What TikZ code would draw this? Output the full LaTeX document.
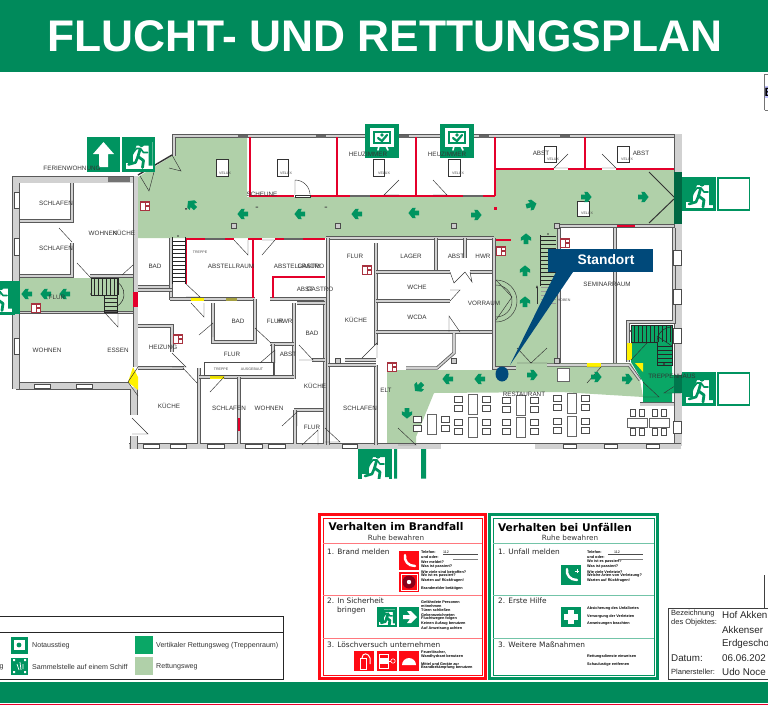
\documentclass[tikz,border=0pt]{standalone}
\usepackage{fontspec}
\setmainfont{Liberation Sans}
\newfontfamily\verdfont{DejaVu Sans}
\usetikzlibrary{arrows.meta,positioning}
\definecolor{bannergreen}{HTML}{008A5B}
\definecolor{signgreen}{HTML}{009460}
\definecolor{routegreen}{HTML}{B0D0A9}
\definecolor{stairgreen}{HTML}{0AA766}
\definecolor{firered}{HTML}{E4002B}
\definecolor{signred}{HTML}{A8323F}
\definecolor{boxred}{HTML}{FF0A14}
\definecolor{standblue}{HTML}{00497A}
\tikzset{
  wall/.style={draw=black!65, line width=0.8pt, double=black!18, double distance=1.6pt, line join=miter},
  firewall/.style={draw=firered, line width=2.4pt},
  thin door/.style={draw=black!80, line width=0.45pt},
  velux/.style={draw=black!80, fill=white, line width=0.5pt},
  room/.style={font=\fontsize{6.3}{7}\selectfont, text=black!80, inner sep=0pt},
  tiny room/.style={font=\fontsize{3.6}{4}\selectfont, text=black!70, inner sep=0pt},
  head/.style={font=\verdfont\bfseries\fontsize{10.6}{13}\selectfont, inner sep=0pt},
  subhead/.style={font=\verdfont\fontsize{7.2}{8}\selectfont, text=black!80, inner sep=0pt},
  step text/.style={font=\verdfont\fontsize{7.4}{8}\selectfont, text=black!85, anchor=west, inner sep=0pt},
  note/.style={font=\bfseries\fontsize{3.8}{4}\selectfont, anchor=west, inner sep=0pt},
  legend text/.style={font=\fontsize{7.1}{8}\selectfont, text=black!80, anchor=west, inner sep=0pt},
  info/.style={font=\fontsize{9.8}{11}\selectfont, text=black!85, anchor=west, inner sep=0pt},
  info small/.style={font=\fontsize{7.5}{8}\selectfont, text=black!85, anchor=west, inner sep=0pt},
  pics/route arrow/.style={code={
    \fill[signgreen] (-5,-2.3) -- (-0.5,-2.3) -- (-1.8,-5.2) -- (1.5,-5.2) -- (5.6,0) -- (1.5,5.2) -- (-1.8,5.2) -- (-0.5,2.3) -- (-5,2.3) -- cycle;
  }},
  pics/runner/.style={code={
    % running man on a door, box of 34 by 34 around the middle
    \fill[white] (-6,-13) rectangle (14,14);
    \fill[white] (-13,8) rectangle (2,14);
    \fill[signgreen] (-6,-13) -- (-6,2) -- (-2,-9) -- (10,-9) -- (10,11) -- (14,11) -- (14,-13) -- cycle;
    \fill[signgreen] (3,-10) circle (2.6);
    \draw[signgreen, line width=2.8pt, line cap=round, line join=round] (1.5,-5) -- (-0.5,2) -- (5,6) -- (4,13);
    \draw[signgreen, line width=2.6pt, line cap=round, line join=round] (-0.5,2) -- (-3,8) -- (-10,10);
    \draw[signgreen, line width=1.6pt, line cap=round, line join=round] (-6,-1) -- (-2,-6) -- (2,-6) -- (5,-2) -- (9,-2);
  }},
  pics/hatchout/.style={code={
    \fill[signgreen] (-17,-17) rectangle (17,17);
    \fill[white] (-12,-13) rectangle (12,6);
    \fill[signgreen] (-9,-10) rectangle (9,3);
    \fill[white] (-7,-8) rectangle (7,1);
    \draw[signgreen, line width=2.2pt, line cap=round] (-4,-3) -- (0,0) -- (5,-6);
    \fill[signgreen] (0,-6) circle (1.8);
    \draw[white, line width=1.6pt, line cap=round] (-3,5) -- (-4,9) (4,5) -- (6,9);
  }},
  pics/firesign/.style={code={
    \fill[signred] (-5,-5) rectangle (5,5);
    \fill[white] (-3.8,-3.5) rectangle (-0.5,3.5);
    \fill[white] (0.5,-3.5) rectangle (3.8,-1);
    \fill[white] (0.5,0.5) rectangle (3.8,3.5);
  }},
  pics/chair pair/.style={code={
    \draw[draw=black!70, fill=white, line width=0.7pt] (-4,-7.5) rectangle (4,-1.5);
    \draw[draw=black!70, fill=white, line width=0.7pt] (-4,1) rectangle (4,7);
  }},
  pics/table block/.style={code={
    \draw[draw=black!60, fill=white, line width=0.6pt] (-4.5,-10) rectangle (4.5,10);
    \pic at (-14,0) {chair pair};
    \pic at (14,0) {chair pair};
  }},
  pics/long table/.style={code={
    \draw[draw=black!60, fill=white, line width=0.6pt] (-10,-4.5) rectangle (10,4.5);
    \foreach \cx in {-6.5,2.5}{
      \draw[draw=black!70, fill=white, line width=0.7pt] (\cx-0.2,-13) rectangle (\cx+5,-6);
      \draw[draw=black!70, fill=white, line width=0.7pt] (\cx-0.2,6) rectangle (\cx+5,13);
    }
  }}
}
\begin{document}
\begin{tikzpicture}[x=1pt,y=-1pt]
\useasboundingbox (0,0) rectangle (768,705);
% banners
\fill[bannergreen] (0,0) rectangle (768,72);
\node[font=\bfseries\fontsize{44.3}{50}\selectfont, text=white, inner sep=0pt] (titel) at (385,36) {FLUCHT- UND RETTUNGSPLAN};
\fill[bannergreen] (0,682) rectangle (768,703);
\fill[firered] (0,703.5) rectangle (768,705);
% escape routes
\fill[routegreen] (176,137) -- (247,137) -- (247,197) -- (495,197) -- (495,170) -- (674,170) -- (674,224) -- (557,224) -- (557,363) -- (631,363) -- (640,380) -- (643,397) -- (561,392) -- (434,393) -- (416,437) -- (416,445) -- (387,445) -- (387,370) -- (494,370) -- (494,238) -- (138,238) -- (138,177) -- (172,156) -- cycle;
\fill[routegreen] (20,278) rectangle (133,312);
% outer walls
\draw[wall, double distance=2pt] (174,156) -- (174,136) -- (678,136);
\draw[wall, double distance=7pt] (678,134) -- (678,446);
\draw[wall, double distance=5pt] (681,446) -- (129,446);
\draw[wall, double distance=6pt] (134,449) -- (134,436);
\draw[wall, double distance=6pt] (134,415) -- (134,387);
\draw[wall, double distance=6pt] (16,386) -- (131,386);
\draw[wall, double distance=6pt] (16,389) -- (16,176);
\draw[wall, double distance=6pt] (13,179.5) -- (138,179.5);
\draw[wall, double distance=4pt] (135.5,176) -- (135.5,367);
% west wing
\draw[wall] (72,183) -- (72,221) -- (20,221);
\draw[wall] (72,243) -- (72,276) -- (20,276);
\draw[wall] (90,276) -- (133,276);
\draw[wall] (20,312.5) -- (133,312.5);
% south of the long corridor
\draw[wall] (138,287) -- (170,287);
\draw[wall] (171,238) -- (171,300);
\draw[wall] (170,299) -- (255,299);
\draw[wall] (270,299) -- (326,299);
\draw[wall] (326,238) -- (494,238);
\draw[wall] (328,238) -- (328,445);
\draw[wall] (376,243) -- (376,345);
\draw[wall] (376,365) -- (376,445);
\draw[wall] (328,365) -- (376,365);
\draw[wall] (345,360) -- (376,360);
\draw[wall] (436,238) -- (436,272);
\draw[wall] (465,238) -- (465,258);
\draw[wall] (376,272) -- (450,272);
\draw[wall] (470,272) -- (494,272);
\draw[wall] (376,301) -- (450,301);
\draw[wall] (376,332) -- (493,332);
\draw[wall] (494,238) -- (494,368) -- (516,368);
\draw[wall] (454,333) -- (454,353) -- (437,368) -- (406,368);
% middle block
\draw[wall] (138,290) -- (172,290);
\draw[wall] (138,326) -- (172,326) -- (172,352);
\draw[wall] (138,368) -- (184,368);
\draw[wall] (213,303) -- (213,342) -- (255,342) -- (255,299);
\draw[wall] (294,303) -- (294,379);
\draw[wall] (270,344) -- (294,344);
\draw[wall] (273,344) -- (273,376);
\draw[wall] (199,368) -- (199,444);
\draw[wall] (199,377) -- (294,377);
\draw[wall] (239,377) -- (239,444);
\draw[wall] (294,410) -- (325,410);
\draw[wall] (295,410) -- (295,444);
\draw[wall] (325,300) -- (325,444);
\draw[wall] (297,303) -- (325,303);
\draw[wall] (312,360) -- (325,360);
\draw[draw=black!70, fill=white, line width=0.6pt] (204,362) rectangle (273,375);
% seminar room and stairs
\draw[wall, double distance=2.4pt] (557,226) -- (674,226);
\draw[wall] (559,228) -- (559,363);
\draw[wall] (615,228) -- (615,363);
\draw[wall] (547,365) -- (629,365) -- (640,380);
\draw[wall] (674,228) -- (674,322) -- (628,322) -- (628,362);
\draw[wall, double distance=3pt] (640,404) -- (674,404);
\fill[stairgreen] (631,325) -- (672,325) -- (672,375) -- (681,375) -- (681,393) -- (672,393) -- (672,402) -- (643,402) -- (643,382) -- (631,362) -- cycle;
% fire walls
\draw[firewall] (250,137) -- (250,196) -- (294,196);
\draw[firewall] (310,196) -- (495,196);
\draw[firewall] (337,137) -- (337,196);
\draw[firewall] (416,137) -- (416,196);
\draw[firewall] (495,137) -- (495,196);
\draw[firewall] (495,169) -- (554,169);
\draw[firewall] (568,169) -- (602,169);
\draw[firewall] (616,169) -- (674,169);
\draw[firewall] (585,137) -- (585,169);
\draw[firewall] (186,239) -- (186,284);
\draw[firewall] (185,239) -- (234,239);
\draw[firewall] (248,239) -- (262,239);
\draw[firewall] (275,239) -- (325,239);
\draw[firewall] (253,239) -- (253,298);
\draw[firewall] (273,298) -- (273,277) -- (325,277);
\draw[firewall] (496,240) -- (511,240);
\draw[firewall] (617,226) -- (635,226);
\draw[firewall] (239,418) -- (239,431);
\fill[firered] (133,292) rectangle (138,307);
% window marks on corridor walls
\foreach \xa/\xb/\ya in {350/370/196,463/483/196,205/225/239,284/303/239}{
  \fill[black!60] (\xa,\ya-1) rectangle (\xb,\ya+1);
}
\foreach \xa in {238,316,399,479,560}{
  \fill[black!60] (\xa,134.5) rectangle (\xa+10,138);
}
\fill[black!55] (108,177) rectangle (130,182);
% windows
\foreach \xa/\xb in {143/159,170/186,207/224,245/262,268/285,342/357,563/576,604/617,646/659}{
  \draw[draw=black!70, fill=white, line width=0.5pt] (\xa,444.5) rectangle (\xb,448);
}
\fill[white] (441,444) rectangle (535,448.5);
\foreach \xa/\xb in {34/50,76/92}{
  \draw[draw=black!70, fill=white, line width=0.5pt] (\xa,384) rectangle (\xb,388);
}
\foreach \ya/\yb in {250/265,289/304,328/343,421/433}{
  \draw[draw=black!70, fill=white, line width=0.5pt] (673.5,\ya) rectangle (681,\yb);
}
\foreach \ya/\yb in {192/208,238/255,338/354}{
  \draw[draw=black!70, fill=white, line width=0.5pt] (14,\ya) rectangle (19,\yb);
}
% doors
\fill[yellow] (191,298) rectangle (204,301);
\fill[yellow!60!black] (226,298) rectangle (237,301);
\fill[yellow] (133,367) -- (138,377) -- (138,390) -- (128,382) -- cycle;
\fill[yellow] (210,376) rectangle (224,379);
\fill[yellow] (587,363) rectangle (601,367);
\fill[yellow] (627,343) rectangle (632,360);
\fill[yellow] (635,363) -- (643,363) -- (643,372) -- cycle;
\draw[line width=1.4pt, black!80] (138,175) -- (172,155);
\foreach \ax/\ay/\bx/\by/\cx/\cy in {
  140/176/149/191/154/172, 172/155/181/171/169/168, 59/228/72/242/72/242, 77/263/90/277/90/277,
  122/275/133/265/133/265, 185/283/200/297/186/297, 234/240/248/255/248/240, 262/255/275/240/262/240,
  399/180/384/195/399/195, 433/180/447/195/433/195, 568/154/554/168/568/168, 602/154/616/168/602/168,
  517/348/531/363/517/363, 547/348/531/363/547/363, 587/383/601/367/587/367,
  398/428/416/445/398/445, 643/382/659/397/643/397, 681/382/664/393/681/393, 631/360/647/343/631/343,
  191/303/204/317/204/303, 199/335/213/323/213/337, 172/353/186/367/172/367, 183/368/197/383/197/383,
  255/328/271/343/271/343, 260/363/275/350/275/363, 299/345/313/360/299/360, 210/377/224/377/210/392,
  282/426/297/412/297/426, 302/445/318/430/318/445, 325/428/340/442/325/442, 362/358/377/343/377/358,
  132/418/148/434/132/434, 128/382/138/367/138/367, 128/382/138/396/138/396, 105/313/118/327/118/313,
  450/272/454/283/465/272, 465/272/472/282/470/272, 450/301/460/290/450/290, 460/332/449/316/449/332}{
  \draw[thin door] (\ax,\ay) -- (\bx,\by) -- (\cx,\cy);
}
\draw[thin door, line width=1pt] (649,172) -- (675,198) -- (649,223);
\draw[thin door] (295,195) -- (295,180) arc[start angle=90, end angle=0, radius=15pt];
\fill[white] (295,194) rectangle (310,198);
\draw[thin door] (295,195) rectangle (310,197);
\draw[thin door] (496,280) arc[start angle=90, end angle=-90, radius=21pt];
\draw[thin door] (496,285) arc[start angle=90, end angle=-90, radius=16pt];
\draw[thin door] (496,280) -- (512,297) -- (496,320);
% stairs
\foreach \sy in {241,245,...,283}{ \draw[black!85, line width=0.5pt] (172,\sy) -- (185,\sy); }
\foreach \sy in {236,240,...,284}{ \draw[black!85, line width=0.5pt] (540,\sy) -- (556,\sy); }
\foreach \sy in {287,291,...,303}{ \draw[black!40, line width=0.4pt] (541,\sy) -- (556,\sy); }
\draw[black!85, line width=0.5pt] (172,237) -- (172,284) (185,237) -- (185,284) (540,235) -- (540,286);
\draw[-{Latex[length=3pt]}, black!80, line width=0.4pt] (537,304) -- (537,285);
\foreach \sx in {94,98,...,118}{ \draw[black!85, line width=0.5pt] (\sx,278) -- (\sx,295); }
\draw[black!85, line width=0.5pt] (91,278) rectangle (117,295);
\foreach \sy in {298,302,...,310}{ \draw[black!85, line width=0.5pt] (104,\sy) -- (117,\sy); }
\draw[black!85, line width=0.5pt] (104,295) rectangle (117,312);
\draw[black!85, line width=0.5pt] (117,282) arc[start angle=60, end angle=-60, radius=14pt];
\foreach \sx in {634,638,...,670}{ \draw[black!85, line width=0.5pt] (\sx,325) -- (\sx,342); }
\draw[black!85, line width=0.9pt] (631,325) -- (672,325) -- (672,365) -- (657,365) -- (657,342) -- (631,342) -- cycle;
\foreach \sy in {346,350,...,362}{ \draw[black!85, line width=0.5pt] (657,\sy) -- (672,\sy); }
\draw[black!85, line width=0.5pt] (657,342) arc[start angle=180, end angle=90, radius=15pt];
\draw[black!85, line width=0.5pt] (657,336) -- (672,346);
\fill[black!80] (664,364) circle (1.2) (631,331) circle (1.2) (91,294) circle (0.9) (178,236) circle (0.9) (548,234) circle (0.9);
% velux windows and pillars
\foreach \xa/\ya/\xb/\yb in {216/159/228/176, 277/159/288/176, 373/159/384/176, 448/159/460/176, 544/146/556/162, 617/146/629/162, 577/201/589/216}{
  \draw[velux] (\xa,\ya) rectangle (\xb,\yb);
}
\foreach \cx/\cy in {234/226,338/226,454/226,557/226,557/361,454/361,338/361}{
  \draw[draw=black!70, fill=white!80!black, line width=0.6pt] (\cx-2.5,\cy-2.5) rectangle (\cx+2.5,\cy+2.5);
}
\draw[draw=black!60, fill=white, line width=0.6pt] (557,368) rectangle (569,381);
\fill[firered] (494,206.5) rectangle (497,209.5);
\fill[black!70] (255.5,206.5) rectangle (258,207.5) (324.5,206.5) rectangle (327,207.5) (185,208) rectangle (187,209.5);
% restaurant
\pic at (431.5,424) {table block};
\foreach \tx/\ty in {472.5/404,472.5/427,520.5/405,520.5/427,571.5/403,571.5/426}{
  \pic at (\tx,\ty) {table block};
}
\pic at (637,422.5) {long table};
\pic at (659,422.5) {long table};
% route arrows
\foreach \ax/\ay/\ang in {192/205/135, 243/214/180, 300/214/180, 357/214/180, 414/213/180, 476/215/0, 531/205/15, 586/197/0, 643/197/0,
  526/239/90, 525/271/90, 525/302/90, 27/294/180, 46/294/180, 65/294/180, 532/375/0, 596/377/0, 627/379/0, 480/379/180, 448/379/180,
  419/387/225, 407/413/270}{
  \pic[rotate=\ang] at (\ax,\ay) {route arrow};
}
% fire signs
\foreach \fx/\fy in {145/206,36/308,367/270,565/243,501/251,178/339,392/367}{
  \pic at (\fx,\fy) {firesign};
}
% exit signs
\fill[signgreen] (87,137) rectangle (120,172);
\fill[white] (103.5,142) -- (114,154) -- (108,154) -- (108,167) -- (99,167) -- (99,154) -- (93,154) -- cycle;
\fill[signgreen] (122,137) rectangle (155,172);
\pic at (138.5,154.5) {runner};
\pic at (382,141) {hatchout};
\pic at (457,141) {hatchout};
\foreach \sx/\sy in {699/194,699/389,-2/297.5}{
  \fill[signgreen] (\sx-17,\sy-17) rectangle (\sx+17,\sy+17);
  \pic at (\sx,\sy) {runner};
}
\begin{scope}
  \clip (350,449) rectangle (400,478.5);
  \fill[signgreen] (358,449) rectangle (392,483);
  \pic at (375,466) {runner};
\end{scope}
\fill[signgreen] (13,281) rectangle (20,314);
\fill[signgreen!70!black] (674,172) rectangle (682,224);
\fill[signgreen!80!black] (674,375) rectangle (682,393);
\foreach \sy in {194,389}{
  \draw[signgreen, line width=1.8pt] (718,\sy-16) rectangle (749.5,\sy+16);
}
\fill[signgreen] (394,449) rectangle (397,478.5) (421,449) rectangle (426,478.5);
% room names
\foreach \rx/\ry/\rname [count=\i] in {
  72/168/FERIENWOHNUNG, 56/203/SCHLAFEN, 56/248/SCHLAFEN, 103/233/WOHNEN, 124/233/KÜCHE, 57/297/FLUR, 155/266/BAD,
  231/266/ABSTELLRAUM, 297/266/ABSTELLRAUM, 311/266/GASTRO, 355/256/FLUR, 305/289/ABST, 320/289/GASTRO, 262/194/SCHEUNE,
  368/154/HEUZIMMER, 447/154/HEUZIMMER, 541/153/ABST, 641/153/ABST, 411/256/LAGER, 456/256/ABST, 483/256/HWR, 417/287/WCHE,
  417/317/WCDA, 484/303/VORRAUM, 607/284/SEMINARRAUM, 47/350/WOHNEN, 118/350/ESSEN, 163/347/HEIZUNG, 238/321/BAD, 275/321/FLUR,
  285/321/HWR, 312/333/BAD, 356/320/KÜCHE, 232/354/FLUR, 288/354/ABST, 315/386/KÜCHE, 169/406/KÜCHE, 229/408/SCHLAFEN,
  269/408/WOHNEN, 312/427/FLUR, 360/408/SCHLAFEN, 386/390/ELT, 524/394/RESTAURANT, 672/376/TREPPENHAUS}{
  \node[room] (raum\i) at (\rx,\ry) {\rname};
}
\foreach \rx/\ry/\rname [count=\i] in {
  225/173/VELUX, 286/173/VELUX, 384/173/VELUX, 458/173/VELUX, 553/159/VELUX, 627/159/VELUX, 587/213/VELUX, 564/300/HOBEN,
  200/252/TREPPE, 221/369/TREPPE, 252/369/AUSGEBAUT}{
  \node[tiny room] (klein\i) at (\rx,\ry) {\rname};
}
% standort callout
\fill[standblue] (548,249) rectangle (653,272);
\fill[standblue] (556,272) -- (573,272) -- (510,365) -- cycle;
\fill[standblue] (502,374) ellipse (6.5 and 7.5);
\node[font=\bfseries\fontsize{13.8}{15}\selectfont, text=white, inner sep=0pt] (standort) at (606,260) {Standort};
% behaviour panels
\draw[boxred, line width=3pt] (319.5,514.5) rectangle (485.5,678);
\draw[boxred, line width=0.6pt] (323,518) rectangle (482,675);
\foreach \ly in {543,595,638}{ \draw[boxred!55, line width=1pt] (323,\ly) -- (482,\ly); }
\draw[signgreen, line width=3pt] (489.5,514.5) rectangle (657,678);
\draw[signgreen, line width=0.6pt] (493,518) rectangle (654,675);
\foreach \ly in {543,595,638}{ \draw[signgreen!55, line width=1pt] (493,\ly) -- (654,\ly); }
\node[head] (brandkopf) at (396,527) {Verhalten im Brandfall};
\node[subhead] (brandruhe) at (396,538) {Ruhe bewahren};
\node[step text] (brand1) at (327,552) {1. Brand melden};
\node[step text] (brand2) at (327,601) {2. In Sicherheit};
\node[step text] (brand2b) at (337,610) {bringen};
\node[step text] (brand3) at (327,645) {3. Löschversuch unternehmen};
\node[head] (unfallkopf) at (565,527) {Verhalten bei Unfällen};
\node[subhead] (unfallruhe) at (570,538) {Ruhe bewahren};
\node[step text] (unfall1) at (498,552) {1. Unfall melden};
\node[step text] (unfall2) at (498,601) {2. Erste Hilfe};
\node[step text] (unfall3) at (498,645) {3. Weitere Maßnahmen};
\foreach \ny/\ntext [count=\i] in {552/Telefon:, 557/und oder:, 562/Wer meldet?, 567/Was ist passiert?, 572/Wie viele sind betroffen?,
  576/Wo ist es passiert?, 581/Warten auf Rückfragen!, 589/Brandmelder betätigen, 602/Gefährdete Personen, 606/mitnehmen, 610/Türen schließen,
  615/Gekennzeichneten, 619/Fluchtwegen folgen, 624/Keinen Aufzug benutzen, 629/Auf Anweisung achten, 652/{Feuerlöscher,},
  657/Wandhydrant benutzen, 664/Mittel und Geräte zur, 668/Brandbekämpfung benutzen}{
  \node[note] (brandnote\i) at (421,\ny) {\ntext};
}
\foreach \ny/\ntext [count=\i] in {552/Telefon:, 557/und oder:, 562/Wo ist es passiert?, 567/Was ist passiert?, 572/Wie viele Verletzte?,
  576/Welche Arten von Verletzung?, 581/Warten auf Rückfragen!, 609/Absicherung des Unfallortes, 617/Versorgung der Verletzten,
  624/Anweisungen beachten, 657/Rettungsdienste einweisen, 665/Schaulustige entfernen}{
  \node[note] (unfallnote\i) at (587,\ny) {\ntext};
}
\node[note, font=\fontsize{3.6}{4}\selectfont] (nr1) at (443,552) {112};
\node[note, font=\fontsize{3.6}{4}\selectfont] (nr2) at (614,552) {112};
\draw[black!70, line width=0.5pt] (443,554) -- (478,554) (608,554) -- (643,554);
\draw[black!50, line width=0.8pt] (453,559) -- (478,559) (618,559) -- (643,559);
% panel icons
\fill[boxred] (399,551) rectangle (419,570);
\draw[white, line width=2.4pt, line cap=round] (405,555) .. controls (404,561) and (408,566) .. (415,566);
\fill[boxred] (399,572) rectangle (419,592);
\draw[white, line width=1pt] (401,574) rectangle (417,590);
\fill[firered!60!black] (409,582) circle (6.5);
\fill[white] (409,582) circle (2.2);
\fill[signgreen] (377,607) rectangle (397,627);
\pic[scale=0.58] at (387,617) {runner};
\fill[signgreen] (399,607) rectangle (419,627);
\fill[white] (403,615) -- (410,615) -- (407,611) -- (411,611) -- (417,617) -- (411,623) -- (407,623) -- (410,619) -- (403,619) -- cycle;
\foreach \ix in {354,377,399}{ \fill[boxred] (\ix,651) rectangle (\ix+20,671); }
\draw[white, line width=1pt, fill=boxred] (360,658) rectangle (366,669);
\draw[white, line width=1pt] (362,658) .. controls (362,652) and (369,653) .. (370,658) -- (370,664);
\draw[white, line width=1pt] (379,654) rectangle (388,668);
\fill[white] (379,658) rectangle (388,664);
\draw[white, line width=0.8pt] (388,661) -- (391,661);
\draw[white, line width=0.6pt] (393,661) circle (2.2);
\fill[white] (402,665) arc[start angle=180, end angle=0, radius=7pt] -- cycle;
\fill[signgreen] (561,565) rectangle (581,585);
\draw[white, line width=2.4pt, line cap=round] (567,569) .. controls (566,575) and (570,580) .. (577,580);
\draw[white, line width=0.8pt] (575,571) -- (579,571) (577,569) -- (577,573);
\fill[signgreen] (561,607) rectangle (581,627);
\fill[white] (568,610) rectangle (574,624);
\fill[white] (564,614) rectangle (578,620);
% legend
\draw[black!85, line width=0.7pt] (-2,616) rectangle (283,679);
\draw[black!85, line width=0.7pt] (-2,632.5) -- (283,632.5);
\foreach \iy in {645,666}{ \fill[signgreen] (11,\iy-8.5) rectangle (28,\iy+8.5); }
\fill[white] (14,640) rectangle (25,650);
\fill[signgreen] (19,645) circle (2.4);
\fill[white] (13,659) rectangle (15,661) (24,659) rectangle (26,661) (13,671) rectangle (15,673) (24,671) rectangle (26,673);
\draw[white, line width=0.7pt] (17,664) -- (19,670) (20,662) -- (21,670) (23,664) -- (23,669);
\fill[stairgreen] (135,636) rectangle (153,654);
\fill[routegreen] (135,657) rectangle (153,675);
\node[legend text] (lnot) at (32,645.5) {Notausstieg};
\node[legend text] (lsam) at (32,667) {Sammelstelle auf einem Schiff};
\node[legend text] (lver) at (156,645.5) {Vertikaler Rettungsweg (Treppenraum)};
\node[legend text] (lret) at (156,667) {Rettungsweg};
\node[legend text] (lrest) at (-0.5,667) {g};
% title block
\draw[black!75, line width=0.8pt] (668.5,608.5) rectangle (770,679);
\draw[black!75, line width=0.8pt] (764.5,575) -- (764.5,608);
\node[info small] (bez1) at (671,614) {Bezeichnung};
\node[info small] (bez2) at (671,623) {des Objektes:};
\node[info] (hof) at (722,615) {Hof Akken};
\node[info] (akk) at (722,630) {Akkenser};
\node[info] (erd) at (722,643.5) {Erdgescho};
\node[info] (dat) at (671,658) {Datum:};
\node[info] (datw) at (722,658) {06.06.202};
\node[info small] (pla) at (671,672) {Planersteller:};
\node[info] (udo) at (722,672) {Udo Noce};
% corner at the upper right
\draw[black!55, line width=0.8pt] (764.5,110) -- (764.5,74.5) -- (770,74.5);
\draw[black!55, line width=0.8pt] (764.5,110) -- (770,110);
\fill[blue!25] (765,86) rectangle (768,98);
\node[font=\bfseries\fontsize{12}{12}\selectfont, anchor=west, inner sep=0pt] (ecke) at (764.5,92) {E};
\end{tikzpicture}
\end{document}
